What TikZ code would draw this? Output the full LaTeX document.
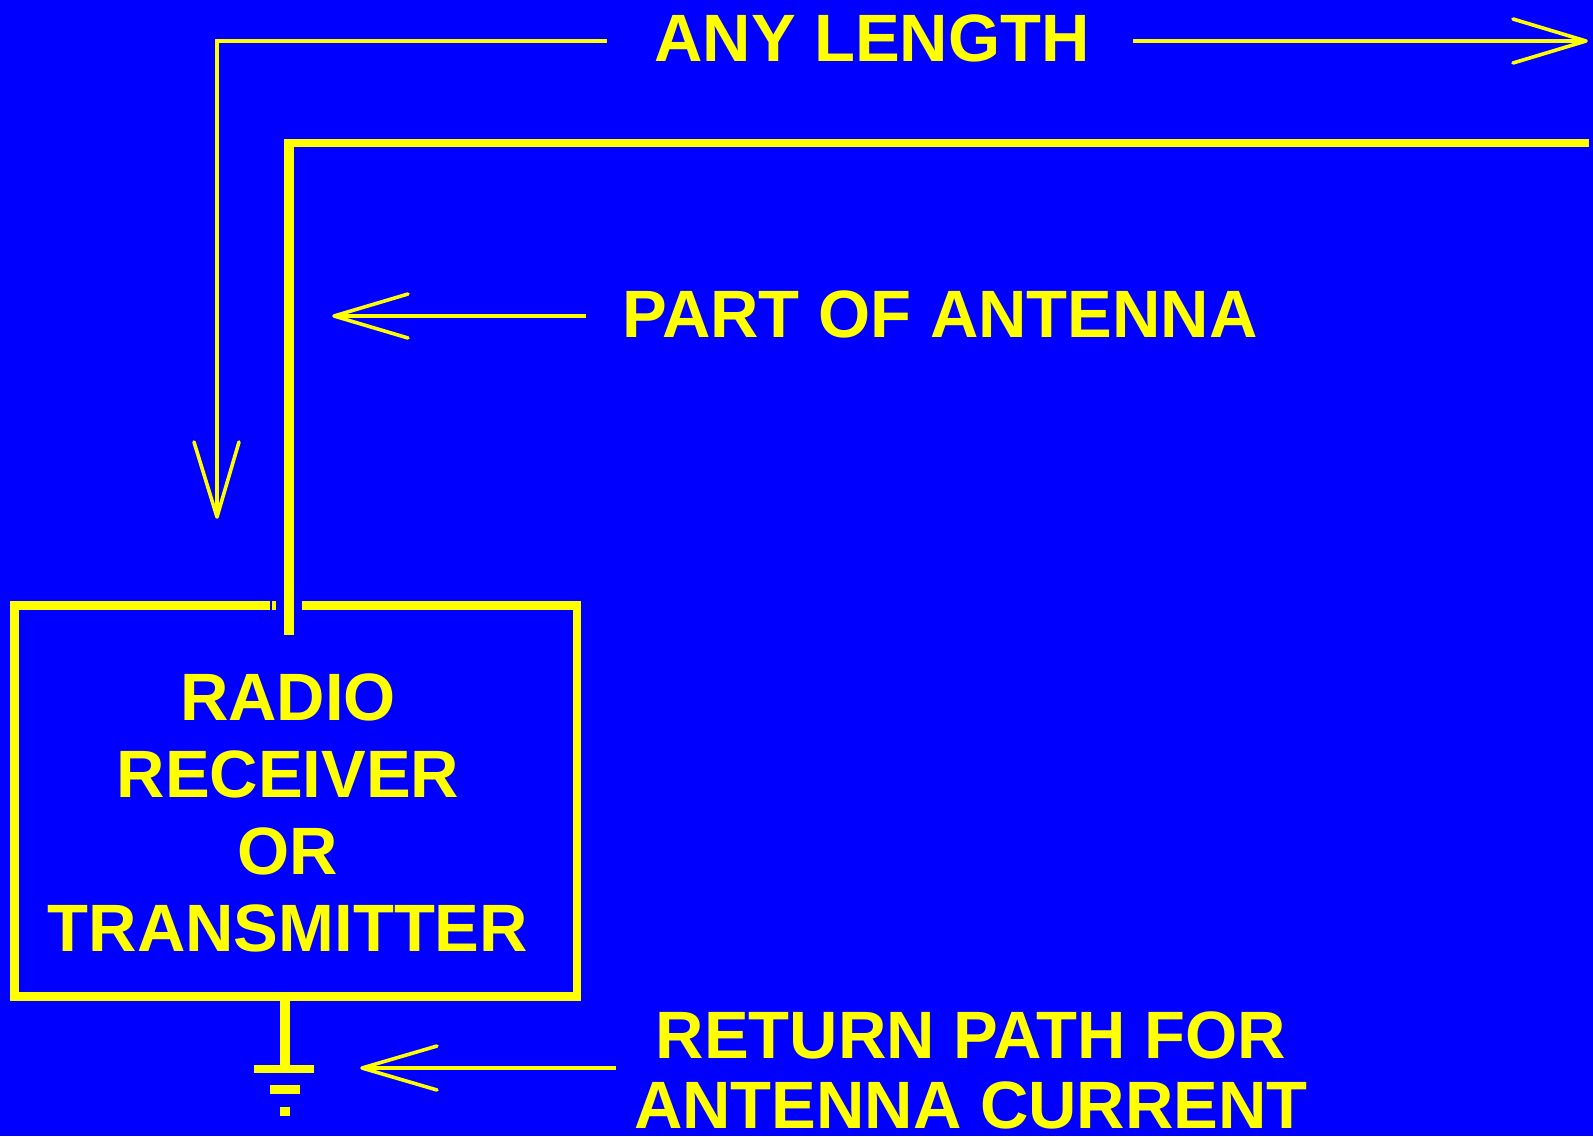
\documentclass[tikz,border=0pt]{standalone}
\usepackage{fontspec}
\setmainfont{Liberation Sans}
\definecolor{bg}{RGB}{0,0,255}
\definecolor{fg}{RGB}{255,255,0}
\tikzset{
  x=1pt,y=-1pt,
  thickwire/.style={draw=fg,line width=8.5pt,line join=miter},
  stem/.style={draw=fg,line width=10pt},
  thinwire/.style={draw=fg,line width=4pt},
  wing/.style={draw=fg,line width=3.6pt,line cap=round,line join=round},
  gbar/.style={fill=fg,draw=none},
  lbl/.style={text=fg,font=\fontsize{67}{67}\selectfont\bfseries,inner sep=0pt,align=center},
}
\begin{document}
\begin{tikzpicture}
\useasboundingbox[fill=bg] (0,0) rectangle (1593,1136);
% labels
\node[lbl,anchor=base] (anylen) at (872,61) {ANY LENGTH};
\node[lbl,anchor=base] (part) at (940,337) {PART OF ANTENNA};
\node[lbl,font=\fontsize{67}{77}\selectfont\bfseries] (radio) at (288,813) {RADIO\\RECEIVER\\OR\\TRANSMITTER};
\node[lbl,font=\fontsize{67}{70}\selectfont\bfseries] (ret) at (971,1070) {RETURN PATH FOR\\ANTENNA CURRENT};
% coordinates
\coordinate (a1) at (607,41);
\coordinate (a2) at (217,41);
\coordinate (a3) at (217,517);
\coordinate (a3l) at (194,442);
\coordinate (a3r) at (239,442);
\coordinate (b1) at (1133,41);
\coordinate (b2) at (1586,41);
\coordinate (b2u) at (1513,19);
\coordinate (b2d) at (1513,63);
\coordinate (ant1) at (1589,143);
\coordinate (ant2) at (289,143);
\coordinate (ant3) at (289,635);
\coordinate (c1) at (586,316);
\coordinate (c2) at (334,316);
\coordinate (c2u) at (408,294);
\coordinate (c2d) at (408,338);
\coordinate (d1) at (616,1068);
\coordinate (d2) at (362,1068);
\coordinate (d2u) at (437,1046);
\coordinate (d2d) at (437,1090);
\coordinate (bl) at (270,605.5);
\coordinate (tl) at (14.5,605.5);
\coordinate (bb) at (14.5,996.5);
\coordinate (br) at (577,996.5);
\coordinate (tr) at (577,605.5);
\coordinate (rs) at (302,605.5);
\coordinate (tick1) at (272,605.5);
\coordinate (tick2) at (276,605.5);
\coordinate (g1) at (285,1001);
\coordinate (g2) at (285,1068);
% dimension arrows
\draw[thinwire] (a1) -- (a2) -- (a3);
\draw[wing] (a3l) -- (a3) -- (a3r);
\draw[thinwire] (b1) -- (b2);
\draw[wing] (b2u) -- (b2) -- (b2d);
\draw[thinwire] (c1) -- (c2);
\draw[wing] (c2u) -- (c2) -- (c2d);
\draw[thinwire] (d1) -- (d2);
\draw[wing] (d2u) -- (d2) -- (d2d);
% antenna
\draw[thickwire] (ant1) -- (ant2);
\draw[stem] ([yshift=4.25pt]ant2) -- (ant3);
% box
\draw[thickwire] (bl) -- (tl) -- (bb) -- (br) -- (tr) -- (rs);
\draw[thickwire] (tick1) -- (tick2);
% ground
\draw[stem] (g1) -- (g2);
\fill[gbar] (254,1065) rectangle (314,1073);
\fill[gbar] (270,1085) rectangle (300,1094);
\fill[gbar] (280,1107) rectangle (290,1116);
\end{tikzpicture}
\end{document}
